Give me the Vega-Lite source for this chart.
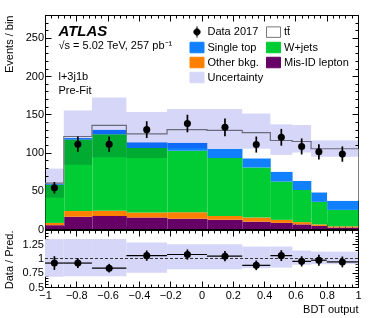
{
  "$schema": "https://vega.github.io/schema/vega-lite/v6.json",
  "padding": {"left": 2, "top": 14, "right": 14, "bottom": 4},
  "background": "white",
  "spacing": 1,
  "bounds": "flush",
  "resolve": {"scale": {"fill": "independent", "shape": "independent", "stroke": "independent"}},
  "config": {
    "view": {"stroke": "black", "strokeWidth": 1},
    "font": "Liberation Sans",
    "axis": {
      "labelFont": "Liberation Sans", "labelFontSize": 11, "labelColor": "black",
      "titleFont": "Liberation Sans", "titleFontSize": 11, "titleFontWeight": "normal", "titleColor": "black",
      "tickColor": "black", "domainColor": "black", "grid": false, "labelFlush": false, "labelOverlap": false,
      "minExtent": 0, "format": ".4~g"
    },
    "legend": {
      "orient": "none", "legendX": 144.5, "legendY": 9, "columns": 2, "direction": "horizontal",
      "symbolSize": 196, "labelFont": "Liberation Sans", "labelFontSize": 11, "labelColor": "black",
      "labelOffset": 3, "rowPadding": -5, "columnPadding": 0.5, "labelLimit": 200, "padding": 0,
      "symbolStrokeWidth": 1, "symbolOpacity": 1
    }
  },
  "datasets": {
    "stack": [
      {"lo": -1, "hi": -0.88, "proc": "Mis-ID lepton", "k": 1, "v": 5},
      {"lo": -1, "hi": -0.88, "proc": "Other bkg.", "k": 2, "v": 3},
      {"lo": -1, "hi": -0.88, "proc": "W+jets", "k": 3, "v": 50},
      {"lo": -1, "hi": -0.88, "proc": "Single top", "k": 4, "v": 1},
      {"lo": -1, "hi": -0.88, "proc": "tt̄", "k": 5, "v": 1},
      {"lo": -0.88, "hi": -0.7, "proc": "Mis-ID lepton", "k": 1, "v": 16},
      {"lo": -0.88, "hi": -0.7, "proc": "Other bkg.", "k": 2, "v": 7.5},
      {"lo": -0.88, "hi": -0.7, "proc": "W+jets", "k": 3, "v": 93.5},
      {"lo": -0.88, "hi": -0.7, "proc": "Single top", "k": 4, "v": 2},
      {"lo": -0.88, "hi": -0.7, "proc": "tt̄", "k": 5, "v": 2},
      {"lo": -0.7, "hi": -0.48, "proc": "Mis-ID lepton", "k": 1, "v": 17},
      {"lo": -0.7, "hi": -0.48, "proc": "Other bkg.", "k": 2, "v": 7},
      {"lo": -0.7, "hi": -0.48, "proc": "W+jets", "k": 3, "v": 100},
      {"lo": -0.7, "hi": -0.48, "proc": "Single top", "k": 4, "v": 6},
      {"lo": -0.7, "hi": -0.48, "proc": "tt̄", "k": 5, "v": 5.5},
      {"lo": -0.48, "hi": -0.22, "proc": "Mis-ID lepton", "k": 1, "v": 15},
      {"lo": -0.48, "hi": -0.22, "proc": "Other bkg.", "k": 2, "v": 6.5},
      {"lo": -0.48, "hi": -0.22, "proc": "W+jets", "k": 3, "v": 84.5},
      {"lo": -0.48, "hi": -0.22, "proc": "Single top", "k": 4, "v": 7.5},
      {"lo": -0.48, "hi": -0.22, "proc": "tt̄", "k": 5, "v": 11},
      {"lo": -0.22, "hi": 0.035, "proc": "Mis-ID lepton", "k": 1, "v": 13.5},
      {"lo": -0.22, "hi": 0.035, "proc": "Other bkg.", "k": 2, "v": 8.5},
      {"lo": -0.22, "hi": 0.035, "proc": "W+jets", "k": 3, "v": 80.5},
      {"lo": -0.22, "hi": 0.035, "proc": "Single top", "k": 4, "v": 10.5},
      {"lo": -0.22, "hi": 0.035, "proc": "tt̄", "k": 5, "v": 17},
      {"lo": 0.035, "hi": 0.26, "proc": "Mis-ID lepton", "k": 1, "v": 12},
      {"lo": 0.035, "hi": 0.26, "proc": "Other bkg.", "k": 2, "v": 5},
      {"lo": 0.035, "hi": 0.26, "proc": "W+jets", "k": 3, "v": 76},
      {"lo": 0.035, "hi": 0.26, "proc": "Single top", "k": 4, "v": 12},
      {"lo": 0.035, "hi": 0.26, "proc": "tt̄", "k": 5, "v": 24},
      {"lo": 0.26, "hi": 0.44, "proc": "Mis-ID lepton", "k": 1, "v": 9.6},
      {"lo": 0.26, "hi": 0.44, "proc": "Other bkg.", "k": 2, "v": 5.4},
      {"lo": 0.26, "hi": 0.44, "proc": "W+jets", "k": 3, "v": 65.5},
      {"lo": 0.26, "hi": 0.44, "proc": "Single top", "k": 4, "v": 12},
      {"lo": 0.26, "hi": 0.44, "proc": "tt̄", "k": 5, "v": 33.5},
      {"lo": 0.44, "hi": 0.58, "proc": "Mis-ID lepton", "k": 1, "v": 8},
      {"lo": 0.44, "hi": 0.58, "proc": "Other bkg.", "k": 2, "v": 4},
      {"lo": 0.44, "hi": 0.58, "proc": "W+jets", "k": 3, "v": 50},
      {"lo": 0.44, "hi": 0.58, "proc": "Single top", "k": 4, "v": 13},
      {"lo": 0.44, "hi": 0.58, "proc": "tt̄", "k": 5, "v": 40.8},
      {"lo": 0.58, "hi": 0.7, "proc": "Mis-ID lepton", "k": 1, "v": 6},
      {"lo": 0.58, "hi": 0.7, "proc": "Other bkg.", "k": 2, "v": 3},
      {"lo": 0.58, "hi": 0.7, "proc": "W+jets", "k": 3, "v": 42},
      {"lo": 0.58, "hi": 0.7, "proc": "Single top", "k": 4, "v": 12},
      {"lo": 0.58, "hi": 0.7, "proc": "tt̄", "k": 5, "v": 51.5},
      {"lo": 0.7, "hi": 0.8, "proc": "Mis-ID lepton", "k": 1, "v": 4},
      {"lo": 0.7, "hi": 0.8, "proc": "Other bkg.", "k": 2, "v": 2},
      {"lo": 0.7, "hi": 0.8, "proc": "W+jets", "k": 3, "v": 29.5},
      {"lo": 0.7, "hi": 0.8, "proc": "Single top", "k": 4, "v": 12.5},
      {"lo": 0.7, "hi": 0.8, "proc": "tt̄", "k": 5, "v": 57},
      {"lo": 0.8, "hi": 1, "proc": "Mis-ID lepton", "k": 1, "v": 2},
      {"lo": 0.8, "hi": 1, "proc": "Other bkg.", "k": 2, "v": 1.5},
      {"lo": 0.8, "hi": 1, "proc": "W+jets", "k": 3, "v": 21.5},
      {"lo": 0.8, "hi": 1, "proc": "Single top", "k": 4, "v": 12},
      {"lo": 0.8, "hi": 1, "proc": "tt̄", "k": 5, "v": 68}
    ],
    "tot": [
      {"e": -1, "t": 60}, {"e": -0.88, "t": 121}, {"e": -0.7, "t": 135.5}, {"e": -0.48, "t": 124.5},
      {"e": -0.22, "t": 130}, {"e": 0.035, "t": 129}, {"e": 0.26, "t": 126}, {"e": 0.44, "t": 115.8},
      {"e": 0.58, "t": 114.5}, {"e": 0.7, "t": 105}, {"e": 0.8, "t": 105}, {"e": 1, "t": 105}
    ],
    "band": [
      {"lo": -1, "hi": -0.88, "y0": 41, "y1": 79, "r0": 0.68, "r1": 1.34},
      {"lo": -0.88, "hi": -0.7, "y0": 84, "y1": 155, "r0": 0.69, "r1": 1.34},
      {"lo": -0.7, "hi": -0.48, "y0": 94, "y1": 172, "r0": 0.69, "r1": 1.34},
      {"lo": -0.48, "hi": -0.22, "y0": 93, "y1": 153, "r0": 0.75, "r1": 1.28},
      {"lo": -0.22, "hi": 0.035, "y0": 106, "y1": 157, "r0": 0.81, "r1": 1.25},
      {"lo": 0.035, "hi": 0.26, "y0": 105, "y1": 157, "r0": 0.81, "r1": 1.25},
      {"lo": 0.26, "hi": 0.44, "y0": 105, "y1": 151, "r0": 0.83, "r1": 1.21},
      {"lo": 0.44, "hi": 0.58, "y0": 97, "y1": 137, "r0": 0.84, "r1": 1.21},
      {"lo": 0.58, "hi": 0.7, "y0": 100, "y1": 136, "r0": 0.89, "r1": 1.14},
      {"lo": 0.7, "hi": 0.8, "y0": 94.5, "y1": 116, "r0": 0.9, "r1": 1.12},
      {"lo": 0.8, "hi": 1, "y0": 94.5, "y1": 116, "r0": 0.9, "r1": 1.12}
    ],
    "pts": [
      {"x": -0.94, "lo": -1, "hi": -0.88, "y": 54, "ylo": 46.5, "yhi": 61.5, "r": 0.92, "rlo": 0.8, "rhi": 1.04},
      {"x": -0.79, "lo": -0.88, "hi": -0.7, "y": 111, "ylo": 101, "yhi": 121, "r": 0.92, "rlo": 0.835, "rhi": 1.005},
      {"x": -0.59, "lo": -0.7, "hi": -0.48, "y": 111, "ylo": 101, "yhi": 121, "r": 0.83, "rlo": 0.755, "rhi": 0.905},
      {"x": -0.35, "lo": -0.48, "hi": -0.22, "y": 130, "ylo": 119, "yhi": 141, "r": 1.05, "rlo": 0.96, "rhi": 1.14},
      {"x": -0.09, "lo": -0.22, "hi": 0.035, "y": 138, "ylo": 126.5, "yhi": 149.5, "r": 1.07, "rlo": 0.98, "rhi": 1.16},
      {"x": 0.15, "lo": 0.035, "hi": 0.26, "y": 133, "ylo": 121.5, "yhi": 144.5, "r": 1.04, "rlo": 0.95, "rhi": 1.13},
      {"x": 0.35, "lo": 0.26, "hi": 0.44, "y": 110.5, "ylo": 100, "yhi": 121, "r": 0.88, "rlo": 0.795, "rhi": 0.965},
      {"x": 0.51, "lo": 0.44, "hi": 0.58, "y": 120, "ylo": 109, "yhi": 131, "r": 1.05, "rlo": 0.955, "rhi": 1.145},
      {"x": 0.64, "lo": 0.58, "hi": 0.7, "y": 108, "ylo": 97.5, "yhi": 118.5, "r": 0.95, "rlo": 0.86, "rhi": 1.04},
      {"x": 0.75, "lo": 0.7, "hi": 0.8, "y": 101, "ylo": 91, "yhi": 111, "r": 0.97, "rlo": 0.875, "rhi": 1.065},
      {"x": 0.9, "lo": 0.8, "hi": 1, "y": 98, "ylo": 88, "yhi": 108, "r": 0.94, "rlo": 0.845, "rhi": 1.035}
    ],
    "leg": [
      {"proc": "Data 2017"}, {"proc": "tt̄"}, {"proc": "Single top"}, {"proc": "W+jets"},
      {"proc": "Other bkg."}, {"proc": "Mis-ID lepton"}, {"proc": "Uncertainty"}
    ]
  },
  "vconcat": [
    {
      "width": 313,
      "height": 214,
      "resolve": {"axis": {"x": "independent", "y": "independent"}},
      "layer": [
        {
          "data": {"name": "stack"},
          "mark": {"type": "bar", "binSpacing": 0, "strokeWidth": 0},
          "encoding": {
            "x": {"field": "lo", "type": "quantitative", "bin": "binned",
              "scale": {"domain": [-1, 1], "nice": false, "zero": false},
              "axis": {"orient": "bottom", "values": [-1, -0.8, -0.6, -0.4, -0.2, 0, 0.2, 0.4, 0.6, 0.8, 1], "labels": false, "tickSize": -6, "title": null}},
            "x2": {"field": "hi"},
            "y": {"field": "v", "type": "quantitative", "stack": "zero",
              "scale": {"domain": [0, 280], "nice": false},
              "axis": {"orient": "left", "values": [0, 50, 100, 150, 200, 250], "tickSize": -6, "labelPadding": 7.5, "title": "Events / bin", "titleAnchor": "end", "titlePadding": 11}},
            "fill": {"field": "proc", "type": "nominal",
              "scale": {"domain": ["Data 2017", "tt̄", "Single top", "W+jets", "Other bkg.", "Mis-ID lepton", "Uncertainty"],
                        "range": ["black", "white", "#1080ff", "#00cc33", "#ff8000", "#660066", "#d6d6f8"]},
              "legend": {"title": null}},
            "order": {"field": "k", "type": "quantitative"}
          }
        },
        {
          "data": {"name": "leg"},
          "mark": {"type": "point", "filled": true, "opacity": 0, "strokeWidth": 1},
          "encoding": {
            "fill": {"field": "proc", "type": "nominal", "legend": {"title": null}},
            "shape": {"field": "proc", "type": "nominal",
              "scale": {"domain": ["Data 2017", "tt̄", "Single top", "W+jets", "Other bkg.", "Mis-ID lepton", "Uncertainty"],
                        "range": ["M0,-0.8L0,0.8M-0.45,0A0.45,0.45,0,1,0,0.45,0A0.45,0.45,0,1,0,-0.45,0Z", "M-1,-0.75L1,-0.75L1,0.75L-1,0.75Z", "M-1,-0.75L1,-0.75L1,0.75L-1,0.75Z", "M-1,-0.75L1,-0.75L1,0.75L-1,0.75Z", "M-1,-0.75L1,-0.75L1,0.75L-1,0.75Z", "M-1,-0.75L1,-0.75L1,0.75L-1,0.75Z", "M-1,-0.75L1,-0.75L1,0.75L-1,0.75Z"]},
              "legend": {"title": null}},
            "stroke": {"field": "proc", "type": "nominal",
              "scale": {"domain": ["Data 2017", "tt̄", "Single top", "W+jets", "Other bkg.", "Mis-ID lepton", "Uncertainty"],
                        "range": ["black", "#777777", "#1080ff", "#00cc33", "#ff8000", "#660066", "#d6d6f8"]},
              "legend": {"title": null}}
          }
        },
        {
          "data": {"name": "tot"},
          "mark": {"type": "line", "interpolate": "step-after", "color": "#808080", "strokeWidth": 1.2},
          "encoding": {
            "x": {"field": "e", "type": "quantitative", "axis": null},
            "y": {"field": "t", "type": "quantitative", "axis": null}
          }
        },
        {
          "data": {"name": "band"},
          "mark": {"type": "rect", "fill": "#d6d6f8", "blend": "multiply"},
          "encoding": {
            "x": {"field": "lo", "type": "quantitative",
              "axis": {"orient": "bottom", "values": [-1, -0.96, -0.92, -0.88, -0.84, -0.8, -0.76, -0.72, -0.68, -0.64, -0.6, -0.56, -0.52, -0.48, -0.44, -0.4, -0.36, -0.32, -0.28, -0.24, -0.2, -0.16, -0.12, -0.08, -0.04, 0, 0.04, 0.08, 0.12, 0.16, 0.2, 0.24, 0.28, 0.32, 0.36, 0.4, 0.44, 0.48, 0.52, 0.56, 0.6, 0.64, 0.68, 0.72, 0.76, 0.8, 0.84, 0.88, 0.92, 0.96, 1], "labels": false, "tickSize": -3, "domain": false, "title": null}},
            "x2": {"field": "hi"},
            "y": {"field": "y0", "type": "quantitative",
              "axis": {"orient": "left", "values": [0, 10, 20, 30, 40, 50, 60, 70, 80, 90, 100, 110, 120, 130, 140, 150, 160, 170, 180, 190, 200, 210, 220, 230, 240, 250, 260, 270, 280], "labels": false, "tickSize": -3, "domain": false, "title": null}},
            "y2": {"field": "y1"}
          }
        },
        {
          "data": {"name": "pts"},
          "mark": {"type": "rule", "strokeWidth": 1.7, "color": "black"},
          "encoding": {
            "x": {"field": "x", "type": "quantitative",
              "axis": {"orient": "top", "values": [-1, -0.8, -0.6, -0.4, -0.2, 0, 0.2, 0.4, 0.6, 0.8, 1], "labels": false, "tickSize": -6, "title": null}},
            "y": {"field": "ylo", "type": "quantitative",
              "axis": {"orient": "right", "values": [0, 50, 100, 150, 200, 250], "labels": false, "tickSize": -6, "title": null}},
            "y2": {"field": "yhi"}
          }
        },
        {
          "data": {"name": "pts"},
          "mark": {"type": "circle", "size": 50, "color": "black", "opacity": 1},
          "encoding": {
            "x": {"field": "x", "type": "quantitative",
              "axis": {"orient": "top", "values": [-1, -0.96, -0.92, -0.88, -0.84, -0.8, -0.76, -0.72, -0.68, -0.64, -0.6, -0.56, -0.52, -0.48, -0.44, -0.4, -0.36, -0.32, -0.28, -0.24, -0.2, -0.16, -0.12, -0.08, -0.04, 0, 0.04, 0.08, 0.12, 0.16, 0.2, 0.24, 0.28, 0.32, 0.36, 0.4, 0.44, 0.48, 0.52, 0.56, 0.6, 0.64, 0.68, 0.72, 0.76, 0.8, 0.84, 0.88, 0.92, 0.96, 1], "labels": false, "tickSize": -3, "domain": false, "title": null}},
            "y": {"field": "y", "type": "quantitative",
              "axis": {"orient": "right", "values": [0, 10, 20, 30, 40, 50, 60, 70, 80, 90, 100, 110, 120, 130, 140, 150, 160, 170, 180, 190, 200, 210, 220, 230, 240, 250, 260, 270, 280], "labels": false, "tickSize": -3, "domain": false, "title": null}}
          }
        },
        {
          "data": {"values": [{"t": "ATLAS"}]},
          "mark": {"type": "text", "align": "left", "baseline": "alphabetic", "font": "Liberation Sans", "fontSize": 15, "fontWeight": "bold", "fontStyle": "italic", "color": "black"},
          "encoding": {
            "x": {"datum": -0.914, "type": "quantitative", "axis": null},
            "y": {"datum": 253, "type": "quantitative", "axis": null},
            "text": {"field": "t"}
          }
        },
        {
          "data": {"values": [{"t": "√s = 5.02 TeV, 257 pb⁻¹"}]},
          "mark": {"type": "text", "align": "left", "baseline": "alphabetic", "font": "Liberation Sans", "fontSize": 11, "color": "black"},
          "encoding": {
            "x": {"datum": -0.914, "type": "quantitative", "axis": null},
            "y": {"datum": 235.7, "type": "quantitative", "axis": null},
            "text": {"field": "t"}
          }
        },
        {
          "data": {"values": [{"t": "l+3j1b"}]},
          "mark": {"type": "text", "align": "left", "baseline": "alphabetic", "font": "Liberation Sans", "fontSize": 11, "color": "black"},
          "encoding": {
            "x": {"datum": -0.914, "type": "quantitative", "axis": null},
            "y": {"datum": 194.4, "type": "quantitative", "axis": null},
            "text": {"field": "t"}
          }
        },
        {
          "data": {"values": [{"t": "Pre-Fit"}]},
          "mark": {"type": "text", "align": "left", "baseline": "alphabetic", "font": "Liberation Sans", "fontSize": 11, "color": "black"},
          "encoding": {
            "x": {"datum": -0.914, "type": "quantitative", "axis": null},
            "y": {"datum": 176.9, "type": "quantitative", "axis": null},
            "text": {"field": "t"}
          }
        }
      ]
    },
    {
      "width": 313,
      "height": 57,
      "resolve": {"axis": {"x": "independent", "y": "independent"}},
      "layer": [
        {
          "data": {"name": "band"},
          "mark": {"type": "rect", "fill": "#d6d6f8"},
          "encoding": {
            "x": {"field": "lo", "type": "quantitative",
              "scale": {"domain": [-1, 1], "nice": false, "zero": false},
              "axis": {"orient": "bottom", "values": [-1, -0.8, -0.6, -0.4, -0.2, 0, 0.2, 0.4, 0.6, 0.8, 1], "tickSize": -6, "labelPadding": 8.5, "title": "BDT output", "titleAnchor": "end", "titlePadding": 3}},
            "x2": {"field": "hi"},
            "y": {"field": "r0", "type": "quantitative",
              "scale": {"domain": [0.5, 1.5], "nice": false, "zero": false},
              "axis": {"orient": "left", "values": [0.5, 0.75, 1, 1.25], "tickSize": -6, "labelPadding": 7.5, "title": "Data / Pred.", "titleAnchor": "end", "titlePadding": 8}},
            "y2": {"field": "r1"}
          }
        },
        {
          "data": {"values": [{}]},
          "mark": {"type": "rule", "color": "#333333", "strokeDash": [3, 2], "strokeWidth": 1},
          "encoding": {
            "y": {"datum": 1, "type": "quantitative",
              "axis": {"orient": "left", "values": [0.5, 0.55, 0.6, 0.65, 0.7, 0.75, 0.8, 0.85, 0.9, 0.95, 1, 1.05, 1.1, 1.15, 1.2, 1.25, 1.3, 1.35, 1.4, 1.45, 1.5], "labels": false, "tickSize": -3, "domain": false, "title": null}}
          }
        },
        {
          "data": {"name": "pts"},
          "mark": {"type": "rule", "strokeWidth": 1.2, "color": "black"},
          "encoding": {
            "x": {"field": "lo", "type": "quantitative",
              "axis": {"orient": "bottom", "values": [-1, -0.96, -0.92, -0.88, -0.84, -0.8, -0.76, -0.72, -0.68, -0.64, -0.6, -0.56, -0.52, -0.48, -0.44, -0.4, -0.36, -0.32, -0.28, -0.24, -0.2, -0.16, -0.12, -0.08, -0.04, 0, 0.04, 0.08, 0.12, 0.16, 0.2, 0.24, 0.28, 0.32, 0.36, 0.4, 0.44, 0.48, 0.52, 0.56, 0.6, 0.64, 0.68, 0.72, 0.76, 0.8, 0.84, 0.88, 0.92, 0.96, 1], "labels": false, "tickSize": -3, "domain": false, "title": null}},
            "x2": {"field": "hi"},
            "y": {"field": "r", "type": "quantitative",
              "axis": {"orient": "right", "values": [0.5, 0.75, 1, 1.25], "labels": false, "tickSize": -6, "title": null}}
          }
        },
        {
          "data": {"name": "pts"},
          "mark": {"type": "rule", "strokeWidth": 1.7, "color": "black"},
          "encoding": {
            "x": {"field": "x", "type": "quantitative",
              "axis": {"orient": "top", "values": [-1, -0.8, -0.6, -0.4, -0.2, 0, 0.2, 0.4, 0.6, 0.8, 1], "labels": false, "tickSize": -6, "title": null}},
            "y": {"field": "rlo", "type": "quantitative",
              "axis": {"orient": "right", "values": [0.5, 0.55, 0.6, 0.65, 0.7, 0.75, 0.8, 0.85, 0.9, 0.95, 1, 1.05, 1.1, 1.15, 1.2, 1.25, 1.3, 1.35, 1.4, 1.45, 1.5], "labels": false, "tickSize": -3, "domain": false, "title": null}},
            "y2": {"field": "rhi"}
          }
        },
        {
          "data": {"name": "pts"},
          "mark": {"type": "circle", "size": 50, "color": "black", "opacity": 1},
          "encoding": {
            "x": {"field": "x", "type": "quantitative",
              "axis": {"orient": "top", "values": [-1, -0.96, -0.92, -0.88, -0.84, -0.8, -0.76, -0.72, -0.68, -0.64, -0.6, -0.56, -0.52, -0.48, -0.44, -0.4, -0.36, -0.32, -0.28, -0.24, -0.2, -0.16, -0.12, -0.08, -0.04, 0, 0.04, 0.08, 0.12, 0.16, 0.2, 0.24, 0.28, 0.32, 0.36, 0.4, 0.44, 0.48, 0.52, 0.56, 0.6, 0.64, 0.68, 0.72, 0.76, 0.8, 0.84, 0.88, 0.92, 0.96, 1], "labels": false, "tickSize": -3, "domain": false, "title": null}},
            "y": {"field": "r", "type": "quantitative", "axis": null}
          }
        }
      ]
    }
  ]
}
